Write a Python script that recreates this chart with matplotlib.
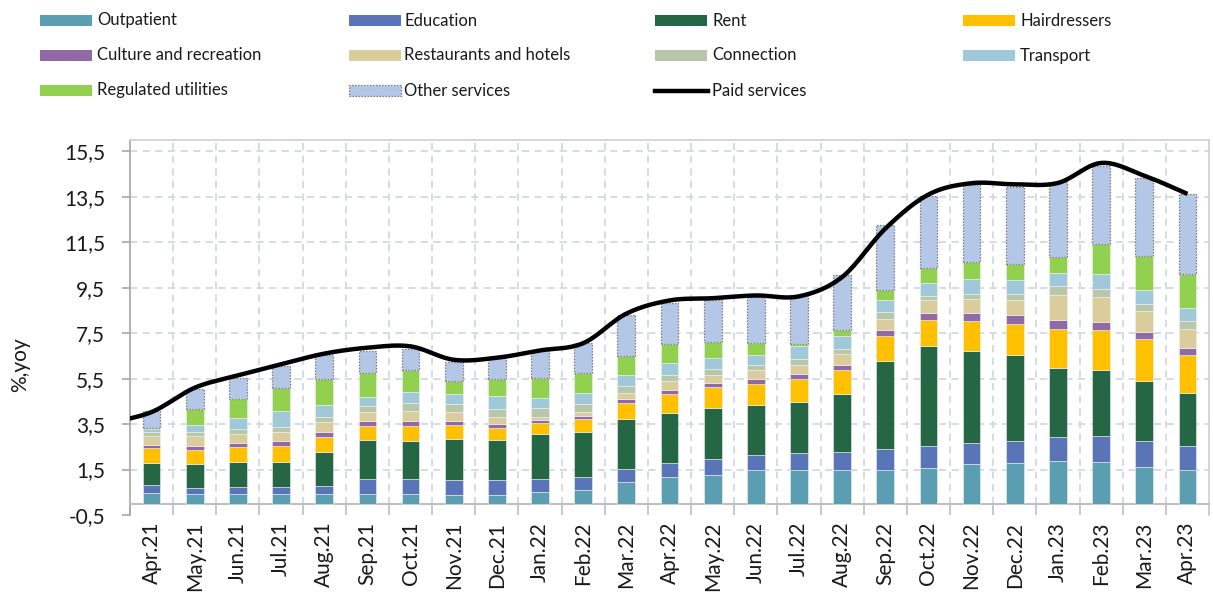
import numpy as np
import matplotlib
matplotlib.use("Agg")
import matplotlib.pyplot as plt
from matplotlib.patches import Rectangle
from matplotlib.lines import Line2D

plt.rcParams['font.family'] = ['Lato', 'DejaVu Sans']

months = ["Apr.21", "May.21", "Jun.21", "Jul.21", "Aug.21", "Sep.21", "Oct.21", "Nov.21",
          "Dec.21", "Jan.22", "Feb.22", "Mar.22", "Apr.22", "May.22", "Jun.22", "Jul.22",
          "Aug.22", "Sep.22", "Oct.22", "Nov.22", "Dec.22", "Jan.23", "Feb.23", "Mar.23", "Apr.23"]

outpatient = [.47, .41, .41, .41, .41, .41, .41, .38, .36, .53, .62, .94, 1.17, 1.25, 1.47, 1.47, 1.47, 1.50, 1.59, 1.75, 1.81, 1.86, 1.82, 1.61, 1.47]
education = [.33, .30, .31, .31, .35, .69, .69, .68, .66, .54, .55, .59, .64, .70, .66, .78, .79, .89, .93, .93, .96, 1.07, 1.14, 1.13, 1.05]
rent = [.98, 1.02, 1.10, 1.13, 1.51, 1.69, 1.66, 1.80, 1.78, 1.99, 1.97, 2.21, 2.19, 2.26, 2.23, 2.24, 2.56, 3.88, 4.40, 4.03, 3.78, 3.02, 2.92, 2.65, 2.35]
hairdressers = [.66, .63, .66, .69, .66, .63, .66, .59, .51, .50, .57, .68, .84, .91, .92, .99, 1.07, 1.10, 1.14, 1.31, 1.37, 1.73, 1.77, 1.84, 1.65]
culture = [.13, .19, .19, .20, .21, .20, .22, .17, .19, .12, .13, .18, .14, .19, .20, .22, .21, .28, .35, .39, .37, .38, .35, .33, .35]
restaurants = [.39, .43, .38, .43, .44, .43, .43, .41, .31, .15, .21, .28, .40, .36, .40, .41, .48, .46, .53, .59, .65, 1.13, 1.09, .91, .80]
connection = [.19, .19, .22, .20, .23, .23, .36, .35, .34, .39, .35, .31, .26, .24, .22, .27, .24, .32, .21, .24, .30, .40, .36, .33, .36]
transport = [.12, .28, .51, .69, .55, .43, .47, .46, .60, .44, .48, .46, .53, .51, .42, .55, .57, .55, .57, .65, .61, .54, .66, .62, .60]
regulated = [.06, .73, .82, 1.04, 1.12, 1.02, .98, .55, .73, .88, .88, .86, .87, .69, .54, .11, .23, .40, .66, .76, .70, .74, 1.32, 1.49, 1.48]
other = [.74, .88, .94, .97, 1.06, 1.00, .94, .86, .96, 1.23, 1.30, 1.78, 1.80, 1.83, 2.03, 2.12, 2.46, 2.89, 3.14, 3.35, 3.39, 3.27, 3.44, 3.42, 3.52]

# Paid services line, starting one month earlier (Mar.21)
paid_services = [3.55, 4.03, 5.10, 5.64, 6.13, 6.60, 6.86, 6.92, 6.33, 6.42, 6.74, 7.06, 8.36, 8.94, 9.04, 9.16,
                 9.12, 9.97, 12.10, 13.60, 14.10, 14.05, 14.11, 14.99, 14.43, 13.63]

series_names = ["Outpatient", "Education", "Rent", "Hairdressers", "Culture and recreation",
                "Restaurants and hotels", "Connection", "Transport", "Regulated utilities", "Other services"]
series_vals = [outpatient, education, rent, hairdressers, culture, restaurants, connection, transport, regulated, other]
colors = ["#5B9DB1", "#5A74B8", "#256645", "#FFC000", "#9169A7", "#DBCD9B", "#B8C7AA", "#9FC9D9", "#92D050", "#B4C7E7"]

W, H = 1213, 603
fig = plt.figure(figsize=(W / 100, H / 100), dpi=100)
ax = fig.add_axes([130 / W, 1 - 515 / H, (1209 - 130) / W, (515 - 140) / H])
ax.set_xlim(-0.5, 24.5)
ax.set_ylim(-0.5, 16)

x = np.arange(len(months))
bottom = np.zeros(len(months))
for name, vals, c in zip(series_names, series_vals, colors):
    vals = np.array(vals)
    if name == "Other services":
        ax.bar(x, vals, width=0.41, bottom=bottom, color=c, edgecolor="#7F7F7F",
               linewidth=0.9, linestyle=(0, (1.2, 1.2)), zorder=3)
    else:
        ax.bar(x, vals, width=0.41, bottom=bottom, color=c, edgecolor="#EEF2F2",
               linewidth=0.4, zorder=3)
    bottom += vals

# smoothed paid-services line (Bezier / Catmull-Rom like Excel)
px = np.arange(-1, len(months))
py = np.array(paid_services)
P = np.column_stack([px, py]).astype(float)
Pext = np.vstack([P[0], P, P[-1]])
pts = []
for i in range(len(P) - 1):
    p0, p1, p2, p3 = Pext[i], Pext[i + 1], Pext[i + 2], Pext[i + 3]
    b1 = p1 + (p2 - p0) / 6
    b2 = p2 - (p3 - p1) / 6
    t = np.linspace(0, 1, 30)[:, None]
    seg = (1 - t) ** 3 * p1 + 3 * (1 - t) ** 2 * t * b1 + 3 * (1 - t) * t ** 2 * b2 + t ** 3 * p2
    pts.append(seg if i == 0 else seg[1:])
pts = np.vstack(pts)
ax.plot(pts[:, 0], pts[:, 1], color="black", lw=3.2, zorder=5, solid_capstyle="butt")

# grid
yt = np.arange(-0.5, 16, 2)
grid_kw = dict(colors="#D3D8E1", linestyles=(0, (4, 3)), linewidth=1.3, zorder=1)
ax.hlines(yt[1:], -0.5, 24.5, **grid_kw)
ax.vlines(np.arange(0.5, 24.5, 1), 0, 16, **grid_kw)

# spines
for s in ["top", "right"]:
    ax.spines[s].set_color("#CFCCD6")
    ax.spines[s].set_linewidth(1.2)
ax.spines["left"].set_color("#A6A6A6")
ax.spines["left"].set_linewidth(1.2)
ax.spines["bottom"].set_position(("data", 0))
ax.spines["bottom"].set_color("#BFBFBF")
ax.spines["bottom"].set_linewidth(1.5)

ax.set_yticks(yt)
ax.set_yticklabels([f"{v:.1f}".replace(".", ",") for v in yt])
ax.tick_params(axis="y", length=6, width=1.2, color="#A6A6A6", pad=12, labelsize=15, labelcolor="#1a1a1a")

ax.set_xticks(np.arange(-0.5, 25, 1))
ax.set_xticklabels([])
ax.tick_params(axis="x", which="major", length=8, width=1.2, color="#BFBFBF")
ax.set_xticks(x, minor=True)
ax.set_xticklabels(months, minor=True, rotation=90)
ax.tick_params(axis="x", which="minor", length=0, pad=13, labelsize=15, labelcolor="#1a1a1a")

fig.text(20 / W, 1 - 365 / H, "%,yoy", rotation=90, ha="center", va="center", fontsize=15, color="#1a1a1a")

# legend (manual layout)
col_sw = [40, 349, 655, 963]
col_tx = [97, 404, 712, 1020]
row_y = [20.5, 55.5, 90.5]
leg_items = list(zip(series_names, colors)) + [("Paid services", None)]
for k, (name, c) in enumerate(leg_items):
    r, cc = divmod(k, 4)
    y = row_y[r]
    if c is None:
        fig.add_artist(Line2D([col_sw[cc] / W, (col_sw[cc] + 53) / W], [1 - y / H, 1 - y / H],
                              color="black", lw=3.2, transform=fig.transFigure))
    else:
        if name == "Other services":
            rect = Rectangle((col_sw[cc] / W, 1 - (y + 5.5) / H), 52 / W, 11 / H, transform=fig.transFigure,
                             facecolor=c, edgecolor="#7F7F7F", linewidth=0.9, linestyle=(0, (1.2, 1.2)))
        else:
            rect = Rectangle((col_sw[cc] / W, 1 - (y + 5.5) / H), 52 / W, 11 / H, transform=fig.transFigure,
                             facecolor=c, edgecolor="none")
        fig.add_artist(rect)
    fig.text(col_tx[cc] / W, 1 - y / H, name, ha="left", va="center", fontsize=12, color="#1a1a1a")

fig.savefig("out.png", dpi=100)
